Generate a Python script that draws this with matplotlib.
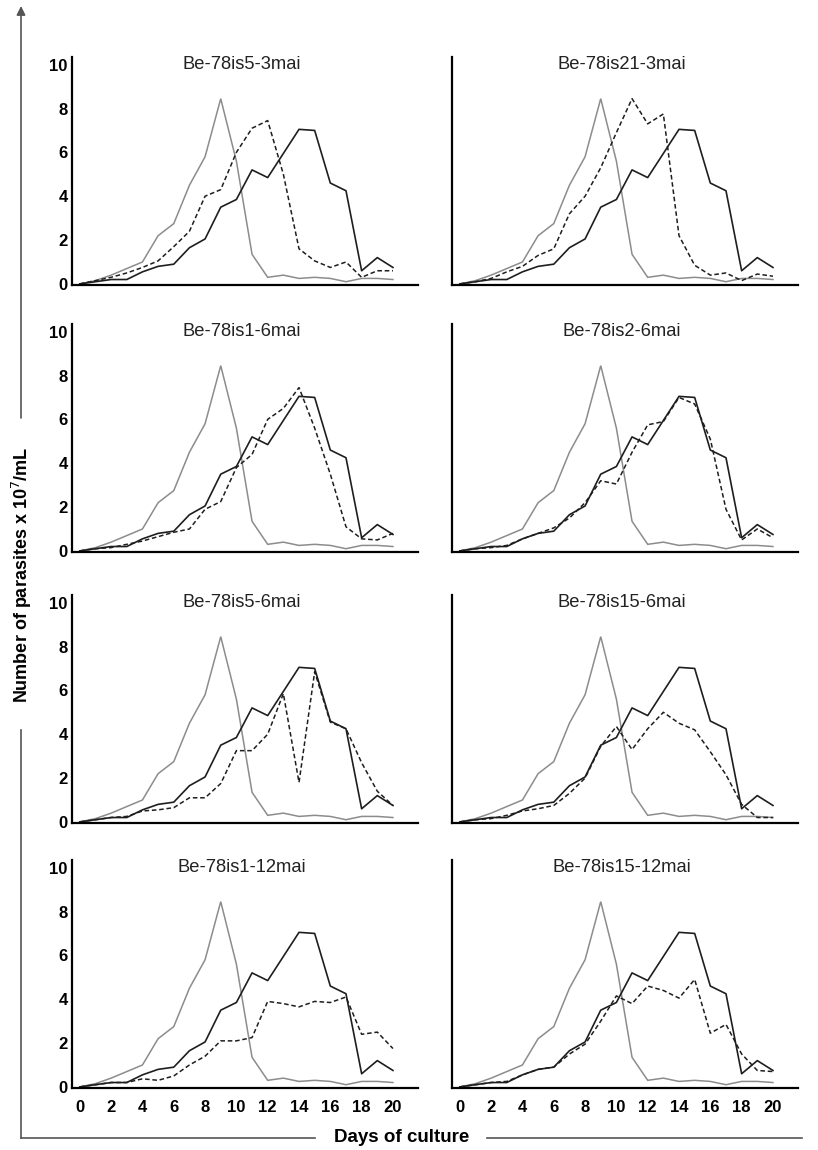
import matplotlib
matplotlib.use("Agg")
import matplotlib.pyplot as plt
from matplotlib.lines import Line2D
from matplotlib.patches import FancyArrowPatch

plt.rcParams['font.family'] = ['Liberation Sans', 'DejaVu Sans']

days = list(range(21))

# reference curves (same in every panel)
gray_ref = [0.0, 0.15, 0.4, 0.7, 1.0, 2.2, 2.75, 4.5, 5.8, 8.45, 5.6, 1.35,
            0.3, 0.4, 0.25, 0.3, 0.25, 0.1, 0.25, 0.25, 0.2]
black_ref = [0.0, 0.1, 0.2, 0.2, 0.55, 0.8, 0.9, 1.65, 2.05, 3.5, 3.85, 5.2,
             4.85, 5.95, 7.05, 7.0, 4.6, 4.25, 0.6, 1.2, 0.75]

titles = ["Be-78is5-3mai", "Be-78is21-3mai",
          "Be-78is1-6mai", "Be-78is2-6mai",
          "Be-78is5-6mai", "Be-78is15-6mai",
          "Be-78is1-12mai", "Be-78is15-12mai"]

dash_is5_3 = [0.0, 0.15, 0.3, 0.5, 0.75, 1.05, 1.7, 2.4, 4.0, 4.3, 6.0, 7.1,
              7.45, 5.0, 1.6, 1.05, 0.75, 1.0, 0.3, 0.6, 0.6]
dash_is21_3 = [0.0, 0.1, 0.25, 0.55, 0.8, 1.3, 1.6, 3.2, 4.0, 5.3, 6.9, 8.45,
               7.3, 7.75, 2.2, 0.85, 0.4, 0.5, 0.15, 0.45, 0.35]
dash_is1_6 = [0.0, 0.1, 0.15, 0.3, 0.45, 0.65, 0.85, 1.0, 1.9, 2.25, 3.8, 4.4,
              6.0, 6.5, 7.45, 5.6, 3.5, 1.1, 0.55, 0.5, 0.8]
dash_is2_6 = [0.0, 0.1, 0.15, 0.25, 0.55, 0.8, 1.05, 1.5, 2.2, 3.2, 3.05, 4.5,
              5.75, 5.9, 7.0, 6.7, 5.1, 1.9, 0.5, 1.0, 0.6]
dash_is5_6 = [0.0, 0.1, 0.2, 0.25, 0.5, 0.55, 0.65, 1.1, 1.1, 1.75, 3.25, 3.25,
              4.0, 5.85, 1.8, 6.85, 4.55, 4.25, 2.7, 1.4, 0.75]
dash_is15_6 = [0.0, 0.1, 0.15, 0.3, 0.5, 0.6, 0.75, 1.3, 2.0, 3.45, 4.35, 3.3,
               4.25, 5.0, 4.5, 4.2, 3.2, 2.15, 0.8, 0.2, 0.2]
dash_is1_12 = [0.0, 0.1, 0.2, 0.2, 0.37, 0.3, 0.5, 1.0, 1.4, 2.1, 2.1, 2.25,
               3.9, 3.8, 3.65, 3.9, 3.85, 4.1, 2.4, 2.5, 1.75]
dash_is15_12 = [0.0, 0.1, 0.2, 0.25, 0.55, 0.8, 0.9, 1.5, 1.95, 3.0, 4.15, 3.8,
                4.6, 4.4, 4.05, 4.9, 2.45, 2.85, 1.5, 0.75, 0.7]

dashed_series = [dash_is5_3, dash_is21_3, dash_is1_6, dash_is2_6,
                 dash_is5_6, dash_is15_6, dash_is1_12, dash_is15_12]

yticks = [0, 2, 4, 6, 8, 10]
xticks = [0, 2, 4, 6, 8, 10, 12, 14, 16, 18, 20]

W, H = 818, 1150
fig = plt.figure(figsize=(W / 100, H / 100), dpi=100)

col_left = [72, 452]
ax_w = 346
row_bottom = [285, 552, 823, 1088]
ax_h = 228

for i, (title, dser) in enumerate(zip(titles, dashed_series)):
    r, c = divmod(i, 2)
    x0 = col_left[c]
    yb = row_bottom[r]
    ax = fig.add_axes([x0 / W, 1 - yb / H, ax_w / W, ax_h / H])
    ax.plot(days, gray_ref, color='#8c8c8c', lw=1.1, solid_joinstyle='miter')
    ax.plot(days, black_ref, color='#1e1e1e', lw=1.2)
    ax.plot(days, dser, color='#1e1e1e', lw=1.1, linestyle=(0, (3, 1.8)))
    ax.set_xlim(-0.5, 21.6)
    ax.set_ylim(-0.05, 10.35)
    for s in ['top', 'right']:
        ax.spines[s].set_visible(False)
    for s in ['left', 'bottom']:
        ax.spines[s].set_linewidth(1.6)
        ax.spines[s].set_color('black')
    ax.set_xticks(xticks)
    ax.set_yticks(yticks)
    ax.tick_params(length=0)
    ax.tick_params(axis='y', pad=3)
    ax.tick_params(axis='x', pad=9)
    if c == 0:
        ax.set_yticklabels([str(v) for v in yticks], fontsize=12, fontweight='bold')
    else:
        ax.set_yticklabels([])
    if r == 3:
        ax.set_xticklabels([str(v) for v in xticks], fontsize=12, fontweight='bold')
    else:
        ax.set_xticklabels([])
    ax.text(0.49, 0.965, title, transform=ax.transAxes, ha='center', va='center',
            fontsize=13.2, color='#222222')

# frame lines with arrow
lc = '#555555'
fig.add_artist(FancyArrowPatch((21 / W, 1 - 418 / H), (21 / W, 1 - 6 / H),
                               transform=fig.transFigure, arrowstyle='-|>',
                               mutation_scale=13, color=lc, lw=1.2,
                               shrinkA=0, shrinkB=0))
fig.add_artist(Line2D([21 / W, 21 / W], [1 - 730 / H, 1 - 1138 / H],
                      transform=fig.transFigure, color=lc, lw=1.2))
fig.add_artist(Line2D([21 / W, 315 / W], [1 - 1138 / H, 1 - 1138 / H],
                      transform=fig.transFigure, color=lc, lw=1.2))
fig.add_artist(Line2D([487 / W, 802 / W], [1 - 1138 / H, 1 - 1138 / H],
                      transform=fig.transFigure, color=lc, lw=1.2))

fig.text(22 / W, 1 - 575 / H, 'Number of parasites x 10$^{7}$/mL', rotation=90,
         ha='center', va='center', fontsize=13, fontweight='bold')
fig.text(402 / W, 1 - 1138 / H, 'Days of culture', ha='center', va='center',
         fontsize=13.5, fontweight='bold')

fig.savefig('out.png', dpi=100)
